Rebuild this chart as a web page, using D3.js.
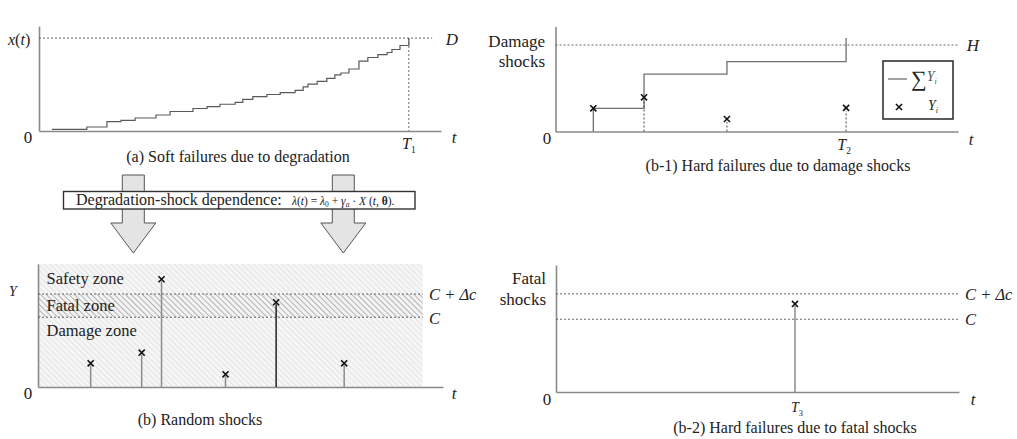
<!DOCTYPE html>
<html>
<head>
<meta charset="utf-8">
<script src="https://cdn.jsdelivr.net/npm/d3@7"></script>
<style>
body { margin: 0; background: #fff; }
text { font-family: "Liberation Serif", "Times New Roman", serif; fill: #222; }
</style>
</head>
<body>
<svg width="1017" height="439"></svg>
<script>
// (a) degradation path x(t): jump times and levels (D = 1)
var degTimes  = [0.32, 1.19, 1.69, 2.04, 2.39, 2.91, 3.26, 3.83, 4.18, 4.50, 4.88, 5.07, 5.32, 5.67, 6.00,
                 6.37, 6.57, 6.69, 6.92, 7.16, 7.36, 7.51, 7.71, 7.96, 8.18, 8.43, 8.66, 8.78, 8.98];
var degLevels = [0.018, 0.043, 0.100, 0.115, 0.140, 0.172, 0.210, 0.242, 0.262, 0.288, 0.307, 0.341, 0.369, 0.393, 0.414,
                 0.438, 0.474, 0.504, 0.533, 0.567, 0.603, 0.624, 0.667, 0.753, 0.791, 0.823, 0.845, 0.877, 0.920];
var T1 = 9.2, D = 1;

// (b) random shocks
var shockTimes = [1.30, 2.56, 3.05, 4.63, 5.88, 7.56];
var shockMags  = [0.193, 0.279, 0.876, 0.103, 0.689, 0.193];
var C = 0.567, Cdc = 0.756, zoneEnd = 9.5;
var zoneNames = ["Safety zone", "Fatal zone", "Damage zone"];

// (b-1) damage shocks
var dmgTimes = [0.94, 2.20, 4.26, 7.22];
var dmgMags  = [0.221, 0.326, 0.119, 0.225];
var H = 0.824;

// (b-2) fatal shock
var fatalTime = 5.93, fatalMag = 0.693;
var C2 = 0.573, Cdc2 = 0.773;

var svg = d3.select("svg");
var defs = svg.append("defs");

function hatch(id, bg, stroke, gap) {
    var p = defs.append("pattern").attr("id", id)
        .attr("patternUnits", "userSpaceOnUse")
        .attr("width", gap).attr("height", gap)
        .attr("patternTransform", "rotate(-45)");
    p.append("rect").attr("width", gap).attr("height", gap).attr("fill", bg);
    p.append("line").attr("x1", 0.5).attr("y1", 0).attr("x2", 0.5).attr("y2", gap)
        .attr("stroke", stroke).attr("stroke-width", 1);
}
hatch("light", "#f6f6f6", "#e3e3e3", 4);
hatch("dark", "#f3f3f3", "#b4b4b4", 4);

var axisColor = "#8a8a8a";
var dashColor = "#555";

function drawAxes(g, x, y) {
    g.append("g").attr("transform", "translate(0," + y.range()[0] + ")")
        .call(d3.axisBottom(x).tickValues([]).tickSizeOuter(0))
        .select(".domain").attr("stroke", axisColor).attr("stroke-width", 1.6);
    g.append("g").attr("transform", "translate(" + x.range()[0] + ",0)")
        .call(d3.axisLeft(y).tickValues([]).tickSizeOuter(0))
        .select(".domain").attr("stroke", axisColor).attr("stroke-width", 1.6);
}

function hDash(g, x, y, v, x1) {
    g.append("line")
        .attr("x1", x.range()[0]).attr("x2", x1 === undefined ? x.range()[1] : x(x1))
        .attr("y1", y(v)).attr("y2", y(v))
        .attr("stroke", dashColor).attr("stroke-width", 0.9).attr("stroke-dasharray", "2,2");
}

function label(g, txt, px, py, opts) {
    opts = opts || {};
    var t = g.append("text").attr("x", px).attr("y", py)
        .attr("font-size", opts.size || 16)
        .attr("text-anchor", opts.anchor || "start")
        .text(txt);
    if (opts.italic) t.attr("font-style", "italic");
    return t;
}

function subLabel(g, main, sub, px, py, size, anchor) {
    var t = g.append("text").attr("x", px).attr("y", py)
        .attr("font-size", size).attr("text-anchor", anchor || "middle");
    t.append("tspan").attr("font-style", "italic").text(main);
    t.append("tspan").attr("font-size", size * 0.6).attr("dy", size * 0.25).text(sub);
    return t;
}

var marker = d3.symbol().type(d3.symbolTimes).size(26);

// ---------- (a) ----------
var ga = svg.append("g");
var xa = d3.scaleLinear().domain([0, 10]).range([39, 441]);
var ya = d3.scaleLinear().domain([0, 1.13]).range([131, 26]);
drawAxes(ga, xa, ya);
hDash(ga, xa, ya, D, 9.78);
ga.append("line").attr("x1", xa(T1)).attr("x2", xa(T1)).attr("y1", ya(D)).attr("y2", ya(0))
    .attr("stroke", dashColor).attr("stroke-width", 0.9).attr("stroke-dasharray", "2,2");
var degPts = degTimes.map(function(t, i) { return [t, degLevels[i]]; });
degPts.push([T1, degLevels[degLevels.length - 1]]);
degPts.push([T1, D]);
ga.append("path").datum(degPts)
    .attr("d", d3.line().x(function(d) { return xa(d[0]); }).y(function(d) { return ya(d[1]); }).curve(d3.curveStepAfter))
    .attr("fill", "none").attr("stroke", "#5a5a5a").attr("stroke-width", 1.2);
var xt = ga.append("text").attr("x", 8).attr("y", 45).attr("font-size", 16);
xt.append("tspan").attr("font-style", "italic").text("x");
xt.append("tspan").text("(");
xt.append("tspan").attr("font-style", "italic").text("t");
xt.append("tspan").text(")");
label(ga, "D", 452, 45, {size: 17, italic: true, anchor: "middle"});
label(ga, "0", 28, 143, {size: 17, anchor: "middle"});
label(ga, "t", 454, 143, {size: 17, italic: true, anchor: "middle"});
subLabel(ga, "T", "1", xa(T1), 149, 16);
label(ga, "(a) Soft failures due to degradation", 238, 162, {anchor: "middle"});

// ---------- arrows + dependence box ----------
var ga2 = svg.append("g");
[133.3, 343.3].forEach(function(cx) {
    var pts = [[cx - 11, 175], [cx + 11, 175], [cx + 11, 223], [cx + 22.5, 223], [cx, 253],
               [cx - 22.5, 223], [cx - 11, 223]];
    ga2.append("polygon").attr("points", pts.map(function(p) { return p.join(","); }).join(" "))
        .attr("fill", "#e4e4e4").attr("stroke", "#555").attr("stroke-width", 1);
});
ga2.append("rect").attr("x", 63.5).attr("y", 191.5).attr("width", 351.5).attr("height", 17.5)
    .attr("fill", "#fff").attr("stroke", "#333").attr("stroke-width", 1.4);
label(ga2, "Degradation-shock dependence:", 76, 205, {size: 16});
var fm = ga2.append("text").attr("x", 292).attr("y", 204.5).attr("font-size", 11.5);
fm.append("tspan").attr("font-style", "italic").text("λ");
fm.append("tspan").text("(");
fm.append("tspan").attr("font-style", "italic").text("t");
fm.append("tspan").text(") = ");
fm.append("tspan").attr("font-style", "italic").text("λ");
fm.append("tspan").attr("font-size", 7.5).attr("dy", 2).text("0");
fm.append("tspan").attr("dy", -2).text(" + ");
fm.append("tspan").attr("font-style", "italic").text("γ");
fm.append("tspan").attr("font-size", 7.5).attr("font-style", "italic").attr("dy", 2).text("a");
fm.append("tspan").attr("dy", -2).text(" · ");
fm.append("tspan").attr("font-style", "italic").text("X");
fm.append("tspan").text(" (");
fm.append("tspan").attr("font-style", "italic").text("t");
fm.append("tspan").text(", ");
fm.append("tspan").attr("font-weight", "bold").text("θ");
fm.append("tspan").text(").");

// ---------- (b) ----------
var gb = svg.append("g");
var xb = d3.scaleLinear().domain([0, 10]).range([38, 443]);
var yb = d3.scaleLinear().domain([0, 1]).range([387, 264]);
var zones = [[Cdc, 1, "light"], [C, Cdc, "dark"], [0, C, "light"]];
gb.selectAll("rect.zone").data(zones).enter().append("rect")
    .attr("x", xb(0)).attr("width", xb(zoneEnd) - xb(0))
    .attr("y", function(d) { return yb(d[1]); })
    .attr("height", function(d) { return yb(d[0]) - yb(d[1]); })
    .attr("fill", function(d) { return "url(#" + d[2] + ")"; });
drawAxes(gb, xb, yb);
hDash(gb, xb, yb, Cdc, zoneEnd);
hDash(gb, xb, yb, C, zoneEnd);
var zoneY = [(yb(1) + yb(Cdc)) / 2 + 5, (yb(Cdc) + yb(C)) / 2 + 5, yb(C) + 19];
zoneNames.forEach(function(n, i) { label(gb, n, xb(0) + 8.5, zoneY[i], {size: 16.5}); });
gb.selectAll("line.shock").data(shockMags).enter().append("line")
    .attr("x1", function(d, i) { return xb(shockTimes[i]); })
    .attr("x2", function(d, i) { return xb(shockTimes[i]); })
    .attr("y1", yb(0)).attr("y2", function(d) { return yb(d) + 2; })
    .attr("stroke", function(d) { return (d >= C && d < Cdc) ? "#222" : "#8c8c8c"; })
    .attr("stroke-width", 1.5);
gb.selectAll("path.mk").data(shockMags).enter().append("path")
    .attr("d", marker)
    .attr("transform", function(d, i) { return "translate(" + xb(shockTimes[i]) + "," + yb(d) + ")"; })
    .attr("stroke", "#111").attr("stroke-width", 1.6).attr("fill", "none");
label(gb, "Y", 13, 296, {size: 14, italic: true, anchor: "middle"});
label(gb, "0", 28, 399, {size: 17, anchor: "middle"});
label(gb, "t", 454, 399, {size: 17, italic: true, anchor: "middle"});
label(gb, "C + Δc", 429, 300, {size: 16.5, italic: true});
label(gb, "C", 429, 324, {size: 16.5, italic: true});
label(gb, "(b) Random shocks", 200, 425, {anchor: "middle"});

// ---------- (b-1) ----------
var g1 = svg.append("g");
var x1 = d3.scaleLinear().domain([0, 10]).range([555.5, 958]);
var y1 = d3.scaleLinear().domain([0, 1]).range([131.5, 26.5]);
drawAxes(g1, x1, y1);
hDash(g1, x1, y1, H);
var cum = Array.from(d3.cumsum(dmgMags));
var sumPts = [[dmgTimes[0], 0]];
dmgTimes.forEach(function(t, i) {
    if (i > 0) sumPts.push([t, cum[i - 1]]);
    sumPts.push([t, cum[i]]);
});
g1.append("path").datum(sumPts)
    .attr("d", d3.line().x(function(d) { return x1(d[0]); }).y(function(d) { return y1(d[1]); }))
    .attr("fill", "none").attr("stroke", "#707070").attr("stroke-width", 1.3);
g1.selectAll("line.drop").data(dmgMags.slice(1)).enter().append("line")
    .attr("x1", function(d, i) { return x1(dmgTimes[i + 1]); })
    .attr("x2", function(d, i) { return x1(dmgTimes[i + 1]); })
    .attr("y1", y1(0)).attr("y2", function(d) { return y1(d) + 3; })
    .attr("stroke", "#444").attr("stroke-width", 1).attr("stroke-dasharray", "2,2");
g1.selectAll("path.mk").data(dmgMags).enter().append("path")
    .attr("d", marker)
    .attr("transform", function(d, i) { return "translate(" + x1(dmgTimes[i]) + "," + y1(d) + ")"; })
    .attr("stroke", "#111").attr("stroke-width", 1.6).attr("fill", "none");
label(g1, "Damage", 545, 47, {size: 17, anchor: "end"});
label(g1, "shocks", 545, 67, {size: 17, anchor: "end"});
label(g1, "0", 547, 144, {size: 17, anchor: "middle"});
label(g1, "t", 971, 145, {size: 17, italic: true, anchor: "middle"});
label(g1, "H", 973, 51, {size: 17, italic: true, anchor: "middle"});
subLabel(g1, "T", "2", x1(dmgTimes[3]) - 2, 150, 16);
label(g1, "(b-1) Hard failures due to damage shocks", 778, 171, {anchor: "middle"});
// legend
var lg = g1.append("g");
lg.append("rect").attr("x", 883).attr("y", 61).attr("width", 70).attr("height", 58)
    .attr("fill", "#fff").attr("stroke", "#333").attr("stroke-width", 1.6);
lg.append("line").attr("x1", 888).attr("x2", 907).attr("y1", 79).attr("y2", 79)
    .attr("stroke", "#707070").attr("stroke-width", 1.3);
var ls = lg.append("text").attr("x", 911).attr("y", 86).attr("font-size", 14);
ls.append("tspan").attr("font-size", 22).text("∑");
ls.append("tspan").attr("font-style", "italic").attr("dy", -5).attr("fill", "#555").text("Y");
ls.append("tspan").attr("font-size", 8).attr("font-style", "italic").attr("dy", 3).attr("fill", "#555").text("i");
lg.append("path").attr("d", marker).attr("transform", "translate(899,107)")
    .attr("stroke", "#111").attr("stroke-width", 1.6).attr("fill", "none");
var ly = lg.append("text").attr("x", 928).attr("y", 110).attr("font-size", 14).attr("fill", "#555");
ly.append("tspan").attr("font-style", "italic").text("Y");
ly.append("tspan").attr("font-size", 8).attr("font-style", "italic").attr("dy", 3).text("i");

// ---------- (b-2) ----------
var g2 = svg.append("g");
var x2 = d3.scaleLinear().domain([0, 10]).range([556, 959]);
var y2 = d3.scaleLinear().domain([0, 1]).range([392, 265]);
drawAxes(g2, x2, y2);
hDash(g2, x2, y2, Cdc2);
hDash(g2, x2, y2, C2);
g2.append("line").attr("x1", x2(fatalTime)).attr("x2", x2(fatalTime))
    .attr("y1", y2(0)).attr("y2", y2(fatalMag) + 2)
    .attr("stroke", "#8c8c8c").attr("stroke-width", 1.5);
g2.append("path").attr("d", marker)
    .attr("transform", "translate(" + x2(fatalTime) + "," + y2(fatalMag) + ")")
    .attr("stroke", "#111").attr("stroke-width", 1.6).attr("fill", "none");
label(g2, "Fatal", 546, 284, {size: 17, anchor: "end"});
label(g2, "shocks", 546, 305, {size: 17, anchor: "end"});
label(g2, "0", 547, 405, {size: 17, anchor: "middle"});
label(g2, "t", 973, 405, {size: 17, italic: true, anchor: "middle"});
label(g2, "C + Δc", 965, 300, {size: 16.5, italic: true});
label(g2, "C", 965, 325, {size: 16.5, italic: true});
subLabel(g2, "T", "3", x2(fatalTime) + 2, 412, 14);
label(g2, "(b-2) Hard failures due to fatal shocks", 795, 433, {anchor: "middle"});
</script>
</body>
</html>
